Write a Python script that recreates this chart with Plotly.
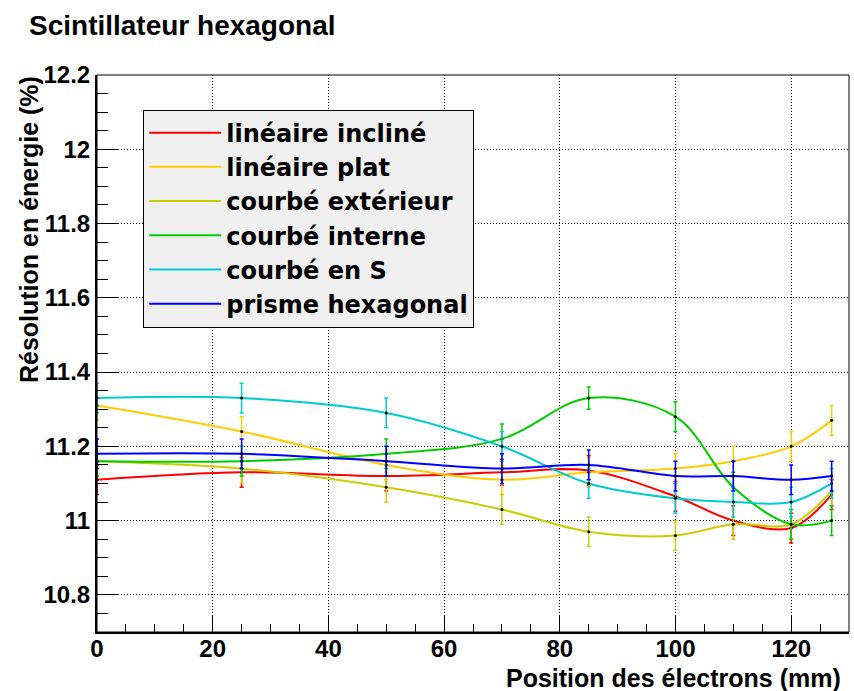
import plotly.graph_objects as go

# Electron position along the scintillator (mm)
positions = [0, 25, 50, 70, 85, 100, 110, 120, 127]

# Energy resolution (%) for each light-guide geometry
res_lineaire_incline = [11.11, 11.13, 11.12, 11.13, 11.135, 11.065, 11.00, 10.98, 11.07]
res_lineaire_plat = [11.31, 11.24, 11.15, 11.11, 11.13, 11.14, 11.16, 11.20, 11.27]
res_courbe_exterieur = [11.16, 11.14, 11.09, 11.03, 10.97, 10.96, 10.99, 10.99, 11.08]
res_courbe_interne = [11.16, 11.16, 11.18, 11.22, 11.33, 11.28, 11.09, 10.99, 11.00]
res_courbe_en_s = [11.33, 11.33, 11.29, 11.20, 11.10, 11.06, 11.05, 11.05, 11.10]
res_prisme_hexagonal = [11.18, 11.18, 11.16, 11.14, 11.15, 11.12, 11.12, 11.11, 11.12]

# Statistical uncertainties (%)
err_lineaire_incline = [0.04, 0.04, 0.04, 0.035, 0.04, 0.04, 0.04, 0.04, 0.04]
err_lineaire_plat = [0.04, 0.04, 0.04, 0.04, 0.04, 0.04, 0.04, 0.04, 0.04]
err_courbe_exterieur = [0.04, 0.04, 0.04, 0.04, 0.04, 0.04, 0.04, 0.04, 0.04]
err_courbe_interne = [0.04, 0.04, 0.04, 0.04, 0.03, 0.04, 0.04, 0.04, 0.04]
err_courbe_en_s = [0.04, 0.04, 0.04, 0.04, 0.04, 0.04, 0.04, 0.04, 0.04]
err_prisme_hexagonal = [0.04, 0.04, 0.04, 0.04, 0.04, 0.04, 0.04, 0.04, 0.04]

series = [
    ("linéaire incliné", res_lineaire_incline, err_lineaire_incline, "#ff0000"),
    ("linéaire plat", res_lineaire_plat, err_lineaire_plat, "#ffcc00"),
    ("courbé extérieur", res_courbe_exterieur, err_courbe_exterieur, "#cccc00"),
    ("courbé interne", res_courbe_interne, err_courbe_interne, "#00cc00"),
    ("courbé en S", res_courbe_en_s, err_courbe_en_s, "#00cccc"),
    ("prisme hexagonal", res_prisme_hexagonal, err_prisme_hexagonal, "#0000ff"),
]

FONT = "Liberation Sans, Arial, Helvetica, sans-serif"
WIDE_FONT = "DejaVu Sans, Liberation Sans, sans-serif"
TICK_FONT = dict(family=FONT, size=24, color="black", weight="bold")

fig = go.Figure()
for name, vals, errs, color in series:
    # smooth curve through the measurements (legend entry)
    fig.add_trace(go.Scatter(
        x=positions, y=vals, name=name, mode="lines",
        line=dict(color=color, width=2, shape="spline", smoothing=1.0),
        legendgroup=name,
    ))
    # measured points with their error bars
    fig.add_trace(go.Scatter(
        x=positions, y=vals, mode="markers", showlegend=False,
        marker=dict(color="black", size=3),
        error_y=dict(type="data", array=errs, color=color, thickness=1.5, width=2),
        legendgroup=name, hoverinfo="skip",
    ))

fig.update_layout(
    width=854, height=691,
    margin=dict(l=97, r=5, t=75, b=59),
    paper_bgcolor="white", plot_bgcolor="white",
    font=dict(family=FONT, size=24, color="black", weight="bold"),
    showlegend=True,
    legend=dict(
        x=0.0615, y=0.938, xanchor="left", yanchor="top",
        bgcolor="#f0f0f0", bordercolor="black", borderwidth=1,
        font=dict(family=WIDE_FONT, size=24, color="black", weight="bold"),
        itemwidth=72, tracegroupgap=0,
    ),
)

fig.update_xaxes(
    range=[0, 130], dtick=20, tick0=0,
    showline=True, linewidth=2, linecolor="black",
    ticks="inside", ticklen=17, tickwidth=1, tickcolor="black",
    showgrid=True, gridcolor="black", gridwidth=1, griddash="1px,2px",
    zeroline=False,
    minor=dict(dtick=5, ticks="inside", ticklen=8, tickcolor="black", tickwidth=1, showgrid=False),
    tickfont=TICK_FONT, ticklabelstandoff=-6,
)
fig.update_yaxes(
    range=[10.7, 12.2], tickvals=[10.8, 11.0, 11.2, 11.4, 11.6, 11.8, 12.0, 12.2],
    ticktext=["10.8", "11", "11.2", "11.4", "11.6", "11.8", "12", "12.2"],
    showline=True, linewidth=2, linecolor="black",
    ticks="inside", ticklen=22, tickwidth=1, tickcolor="black",
    showgrid=True, gridcolor="black", gridwidth=1, griddash="1px,2px",
    zeroline=False,
    minor=dict(dtick=0.05, tick0=10.7, ticks="inside", ticklen=11, tickcolor="black", tickwidth=1, showgrid=False),
    tickfont=TICK_FONT,
)

# thin frame closing the top and right sides
fig.add_shape(type="rect", xref="paper", yref="paper", x0=0, y0=0, x1=1, y1=1,
              line=dict(color="black", width=1), layer="above")

# titles
fig.add_annotation(text="Scintillateur hexagonal", xref="paper", yref="paper",
                   x=-0.0926, y=1.089, xanchor="left", yanchor="middle", showarrow=False,
                   font=dict(family=FONT, size=28, color="black", weight="bold"))
fig.add_annotation(text="Position des électrons (mm)", xref="paper", yref="paper",
                   x=0.992, y=-0.083, xanchor="right", yanchor="middle", showarrow=False,
                   font=dict(family=FONT, size=25, color="black", weight="bold"))
fig.add_annotation(text="Résolution en énergie (%)", xref="paper", yref="paper",
                   x=-0.0895, y=1.002, xanchor="center", yanchor="top", showarrow=False,
                   textangle=-90,
                   font=dict(family=FONT, size=25, color="black", weight="bold"))

fig.write_html("out.html")
